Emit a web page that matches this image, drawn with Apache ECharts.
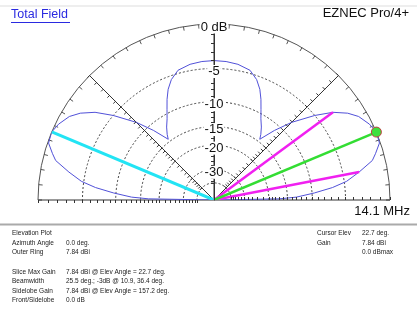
<!DOCTYPE html>
<html>
<head>
<meta charset="utf-8">
<script src="https://cdn.jsdelivr.net/npm/echarts@6/dist/echarts.min.js"></script>
<style>
  html, body { margin: 0; padding: 0; background: #fff; }
  #chart { width: 417px; height: 311px; }
</style>
</head>
<body>
<div id="chart"></div>
<script>
// elevation pattern (deg, dB relative to outer ring)
const elevAngles = [0, 1, 2, 4, 6, 8, 10.9, 14, 16, 19, 22.7, 26, 30, 33, 36.4, 40, 45, 49, 53, 54.5, 57, 60, 62.5, 65, 67.5, 70.5, 74.5, 80, 85, 90,
  95, 100, 105.5, 109.5, 112.5, 115, 117.5, 120, 123, 125.5, 127, 131, 135, 140, 143.6, 147, 150, 154, 157.3, 161, 164, 166, 169.1, 172, 174, 176, 178, 179, 180];
const gainDb = [-99, -17, -13, -9.6, -6.7, -4.7, -3, -1.3, -0.8, -0.1, 0, -0.3, -0.9, -1.7, -3, -5.0, -8.1, -11.1, -14.4, -13.4, -12.1, -10.8, -9.4, -7.9, -6.6, -5.5, -4.6, -4.2, -4.05, -4.0,
  -4.05, -4.2, -4.6, -5.5, -6.6, -7.9, -9.4, -10.8, -12.1, -13.4, -14.4, -11.1, -8.1, -5.0, -3, -1.7, -0.9, -0.3, 0, -0.1, -0.8, -1.3, -3, -4.7, -6.7, -9.6, -13, -17, -99];

const cursorElev = 22.7;
const sidelobeElev = 157.2;
const beamAngles = [10.9, 36.4];
const beamDb = -3;

// ARRL log scale rings / ticks
const ringDb = [-5, -10, -15, -20, -30, -40];
const labelDb = [0, -5, -10, -15, -20, -30];
const tickDb = [0, -1, -2, -3, -4, -5, -6, -7, -8, -9, -10, -11, -12, -13, -14, -15, -16, -17, -18, -19, -20,
  -22, -24, -26, -28, -30, -32, -34, -36, -38, -40];

const infoLeft = [
  ['Elevation Plot', ''],
  ['Azimuth Angle', '0.0 deg.'],
  ['Outer Ring', '7.84 dBi'],
  ['', ''],
  ['Slice Max Gain', '7.84 dBi @ Elev Angle = 22.7 deg.'],
  ['Beamwidth', '25.5 deg.; -3dB @ 10.9, 36.4 deg.'],
  ['Sidelobe Gain', '7.84 dBi @ Elev Angle = 157.2 deg.'],
  ['Front/Sidelobe', '0.0 dB']
];
const infoRight = [
  ['Cursor Elev', '22.7 deg.'],
  ['Gain', '7.84 dBi'],
  ['', '0.0 dBmax']
];

const dbToR = db => Math.pow(0.89, -db / 2);

const FONT = 'Liberation Sans, Arial, sans-serif';
const CENTER = [214, 200];
const RADIUS = 176;
const LABEL_DROP = 3 / RADIUS; // labels sit a little below their ring

// label text for a (dropped) label position: nearest ring value
const labelFor = v => {
  let best = labelDb[0];
  labelDb.forEach(d => {
    if (Math.abs(dbToR(d) - LABEL_DROP - v) < Math.abs(dbToR(best) - LABEL_DROP - v)) best = d;
  });
  return best === 0 ? '0 dB' : '-' + Math.abs(best);
};

const patternData = elevAngles.map((a, i) => [dbToR(gainDb[i]), a]);

// extra polar systems only used to draw tick rows along straight lines
const tickPolars = [
  { angle: 90, inside: false, labels: true, line: true },
  { angle: 90, inside: true, labels: false, line: false },
  { angle: 0, inside: false, labels: false, line: false },
  { angle: 180, inside: true, labels: false, line: false },
  { angle: 45, inside: false, labels: false, line: false },
  { angle: 135, inside: true, labels: false, line: false }
];

const polar = [{ center: CENTER, radius: RADIUS }];
const angleAxis = [{
  polarIndex: 0,
  type: 'value', min: 0, max: 180, interval: 45,
  startAngle: 0, endAngle: 180, clockwise: false,
  axisLine: { lineStyle: { color: '#555', width: 1 } },
  axisTick: { show: true, inside: true, length: 4, lineStyle: { color: '#555' } },
  minorTick: { show: true, splitNumber: 9, length: 4, lineStyle: { color: '#555' } },
  splitLine: { show: true, lineStyle: { color: '#333', width: 1 } },
  axisLabel: { show: false }
}];
const radiusAxis = [{
  polarIndex: 0,
  type: 'value', min: 0, max: 1,
  axisLine: { show: false },
  axisLabel: { show: false },
  axisTick: { show: false, customValues: ringDb.map(dbToR) },
  splitLine: { show: true, lineStyle: { color: '#444', width: 1, type: [2, 2] } }
}];

tickPolars.forEach((t, k) => {
  const idx = k + 1;
  polar.push({ center: CENTER, radius: RADIUS });
  angleAxis.push({
    polarIndex: idx, type: 'value', min: 0, max: 360, startAngle: t.angle, show: false
  });
  radiusAxis.push({
    polarIndex: idx, type: 'value', min: 0, max: 1, z: 5,
    axisLine: { show: t.line, lineStyle: { color: '#333', width: 1 } },
    axisTick: { show: true, inside: t.inside, length: 3, customValues: tickDb.map(dbToR), lineStyle: { color: '#333' } },
    splitLine: { show: false },
    axisLabel: t.labels ? {
      show: true,
      customValues: labelDb.map(d => dbToR(d) - LABEL_DROP),
      formatter: v => labelFor(v),
      align: 'center', verticalAlign: 'middle', margin: 0,
      backgroundColor: '#fff', padding: [0, 1],
      fontSize: 13, color: '#111', fontFamily: FONT
    } : { show: false }
  });
});

const graphic = [
  { type: 'line', shape: { x1: 0, y1: 6, x2: 417, y2: 6 }, style: { stroke: '#ddd', lineWidth: 1 } },
  { type: 'text', left: 11, top: 8, style: { text: 'Total Field', fontSize: 12.5, fontFamily: FONT, fill: '#2a2ae0' } },
  { type: 'line', shape: { x1: 11, y1: 22.5, x2: 70, y2: 22.5 }, style: { stroke: '#2a2ae0', lineWidth: 1 } },
  { type: 'text', right: 8, top: 7, style: { text: 'EZNEC Pro/4+', fontSize: 13, fontFamily: FONT, fill: '#111' } },
  { type: 'text', right: 7, top: 205, style: { text: '14.1 MHz', fontSize: 13, fontFamily: FONT, fill: '#111' } },
  { type: 'rect', shape: { x: 0, y: 223.5, width: 417, height: 2 }, style: { fill: '#aaa' } }
];
const infoStyle = { fontSize: 6.5, fontFamily: FONT, fill: '#222' };
infoLeft.forEach((row, i) => {
  const y = 230 + i * 9.6;
  if (row[0]) graphic.push({ type: 'text', x: 12, y: y, style: Object.assign({ text: row[0] }, infoStyle) });
  if (row[1]) graphic.push({ type: 'text', x: 66, y: y, style: Object.assign({ text: row[1] }, infoStyle) });
});
infoRight.forEach((row, i) => {
  const y = 230 + i * 9.6;
  if (row[0]) graphic.push({ type: 'text', x: 317, y: y, style: Object.assign({ text: row[0] }, infoStyle) });
  if (row[1]) graphic.push({ type: 'text', x: 362, y: y, style: Object.assign({ text: row[1] }, infoStyle) });
});

const option = {
  animation: false,
  backgroundColor: '#fff',
  polar: polar,
  angleAxis: angleAxis,
  radiusAxis: radiusAxis,
  graphic: graphic,
  series: [
    {
      type: 'line', coordinateSystem: 'polar', polarIndex: 0,
      data: patternData, showSymbol: false, smooth: false,
      lineStyle: { color: '#5151d8', width: 1 }, z: 3
    },
    {
      type: 'line', coordinateSystem: 'polar', polarIndex: 0,
      data: [[0, sidelobeElev], [1, sidelobeElev]], showSymbol: false,
      lineStyle: { color: '#22e4f4', width: 3 }, z: 4
    },
    ...beamAngles.map(a => ({
      type: 'line', coordinateSystem: 'polar', polarIndex: 0,
      data: [[0, a], [dbToR(beamDb), a]], showSymbol: false,
      lineStyle: { color: '#f020f0', width: 2.5 }, z: 4
    })),
    {
      type: 'line', coordinateSystem: 'polar', polarIndex: 0,
      data: [[0, cursorElev], { value: [1, cursorElev], symbol: 'circle', symbolSize: 10,
        itemStyle: { color: '#3ee03e', borderColor: '#c04040', borderWidth: 1 } }],
      symbol: 'none', showSymbol: true,
      lineStyle: { color: '#33dd33', width: 2.5 }, z: 4
    }
  ]
};

const chart = echarts.init(document.getElementById('chart'));
chart.setOption(option);
</script>
</body>
</html>
